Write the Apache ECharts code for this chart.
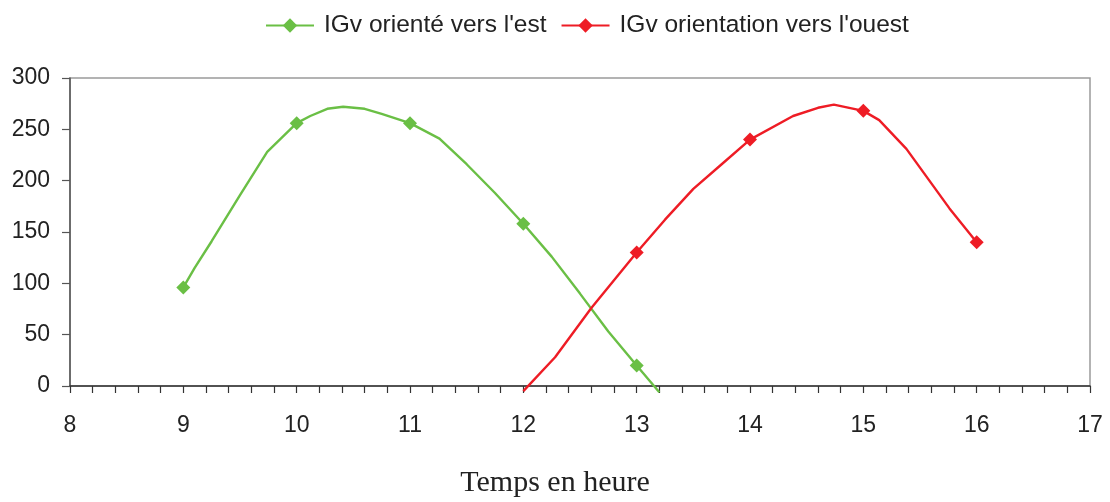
<!DOCTYPE html>
<html>
<head>
<meta charset="utf-8">
<script src="https://cdn.jsdelivr.net/npm/echarts@6/dist/echarts.min.js"></script>
<style>
  html, body { margin: 0; padding: 0; background: #fff; }
  #chart { width: 1110px; height: 502px; }
</style>
</head>
<body>
<div id="chart"></div>
<script>
// Hourly readings (with markers)
const estHeures = [9, 10, 11, 12, 13];
const estValeurs = [96, 256, 256, 158, 20];
const ouestHeures = [13, 14, 15, 16];
const ouestValeurs = [130, 240, 268, 140];

// Intermediate points of the fitted curves (no marker)
const estCourbeHeures = [9.1, 9.25, 9.5, 9.74, 10.12, 10.27, 10.41, 10.6, 10.75, 11.26, 11.5, 11.75, 12.25, 12.5, 12.75, 13.2];
const estCourbeValeurs = [115, 141, 186, 228, 263, 270, 272, 270, 265, 241, 216, 188, 126, 90, 53, -6];
const ouestCourbeHeures = [12.0, 12.28, 12.6, 13.25, 13.5, 13.75, 14.38, 14.6, 14.74, 15.14, 15.38, 15.76];
const ouestCourbeValeurs = [-5, 28, 76, 162, 192, 216, 263, 271, 274, 259, 231, 173];

// Axis ticks
const xMin = 8, xMax = 17, xStep = 1;
const yMin = 0, yMax = 300, yStep = 50;

const serieEst = "IGv orienté vers l'est";
const serieOuest = "IGv orientation vers l'ouest";
const titreAxeX = 'Temps en heure';

function buildPoints(mh, mv, ch, cv) {
  const pts = [];
  mh.forEach((h, i) => pts.push({ value: [h, mv[i]] }));
  ch.forEach((h, i) => pts.push({ value: [h, cv[i]], symbol: 'none' }));
  pts.sort((a, b) => a.value[0] - b.value[0]);
  return pts;
}

const vert = '#6abf45';
const rouge = '#ee1c25';
const font = '"Liberation Sans", Arial, sans-serif';

const chart = echarts.init(document.getElementById('chart'));
chart.setOption({
  animation: false,
  backgroundColor: '#fff',
  title: {
    text: titreAxeX,
    left: 'center',
    top: 468,
    padding: 0,
    textStyle: { fontFamily: '"Liberation Serif", "Times New Roman", serif', fontSize: 30, fontWeight: 'normal', color: '#222' }
  },
  legend: {
    top: 8,
    left: 260,
    itemWidth: 48,
    itemHeight: 18,
    itemGap: 14,
    textStyle: { fontFamily: font, fontSize: 24.5, color: '#222', padding: [0, 0, 0, 5] },
    data: [serieEst, serieOuest]
  },
  grid: {
    left: 70, right: 20, top: 78, bottom: 116,
    containLabel: false,
    outerBoundsMode: 'none',
    show: true, borderColor: '#9a9a9a', borderWidth: 1.5
  },
  xAxis: {
    type: 'value',
    min: xMin, max: xMax, interval: xStep,
    axisLine: { show: true, lineStyle: { color: '#333', width: 1.5 } },
    axisTick: { show: true, length: 7, lineStyle: { color: '#333', width: 1.2 } },
    minorTick: { show: true, splitNumber: 5, length: 7, lineStyle: { color: '#333', width: 1.2 } },
    splitLine: { show: false },
    axisLabel: { fontFamily: font, fontSize: 23, color: '#222', margin: 28 }
  },
  yAxis: {
    type: 'value',
    min: yMin, max: yMax, interval: yStep,
    axisLine: { show: true, lineStyle: { color: '#555', width: 1.5 } },
    axisTick: { show: true, length: 8, lineStyle: { color: '#555', width: 1.2 } },
    splitLine: { show: false },
    axisLabel: { fontFamily: font, fontSize: 23, color: '#222', margin: 20 }
  },
  series: [
    {
      name: serieEst,
      type: 'line',
      clip: false,
      showAllSymbol: true,
      symbol: 'diamond',
      symbolSize: 14,
      color: vert,
      lineStyle: { color: vert, width: 2.4 },
      itemStyle: { color: vert },
      data: buildPoints(estHeures, estValeurs, estCourbeHeures, estCourbeValeurs)
    },
    {
      name: serieOuest,
      type: 'line',
      clip: false,
      showAllSymbol: true,
      symbol: 'diamond',
      symbolSize: 14,
      color: rouge,
      lineStyle: { color: rouge, width: 2.4 },
      itemStyle: { color: rouge },
      data: buildPoints(ouestHeures, ouestValeurs, ouestCourbeHeures, ouestCourbeValeurs)
    }
  ]
});
</script>
</body>
</html>
